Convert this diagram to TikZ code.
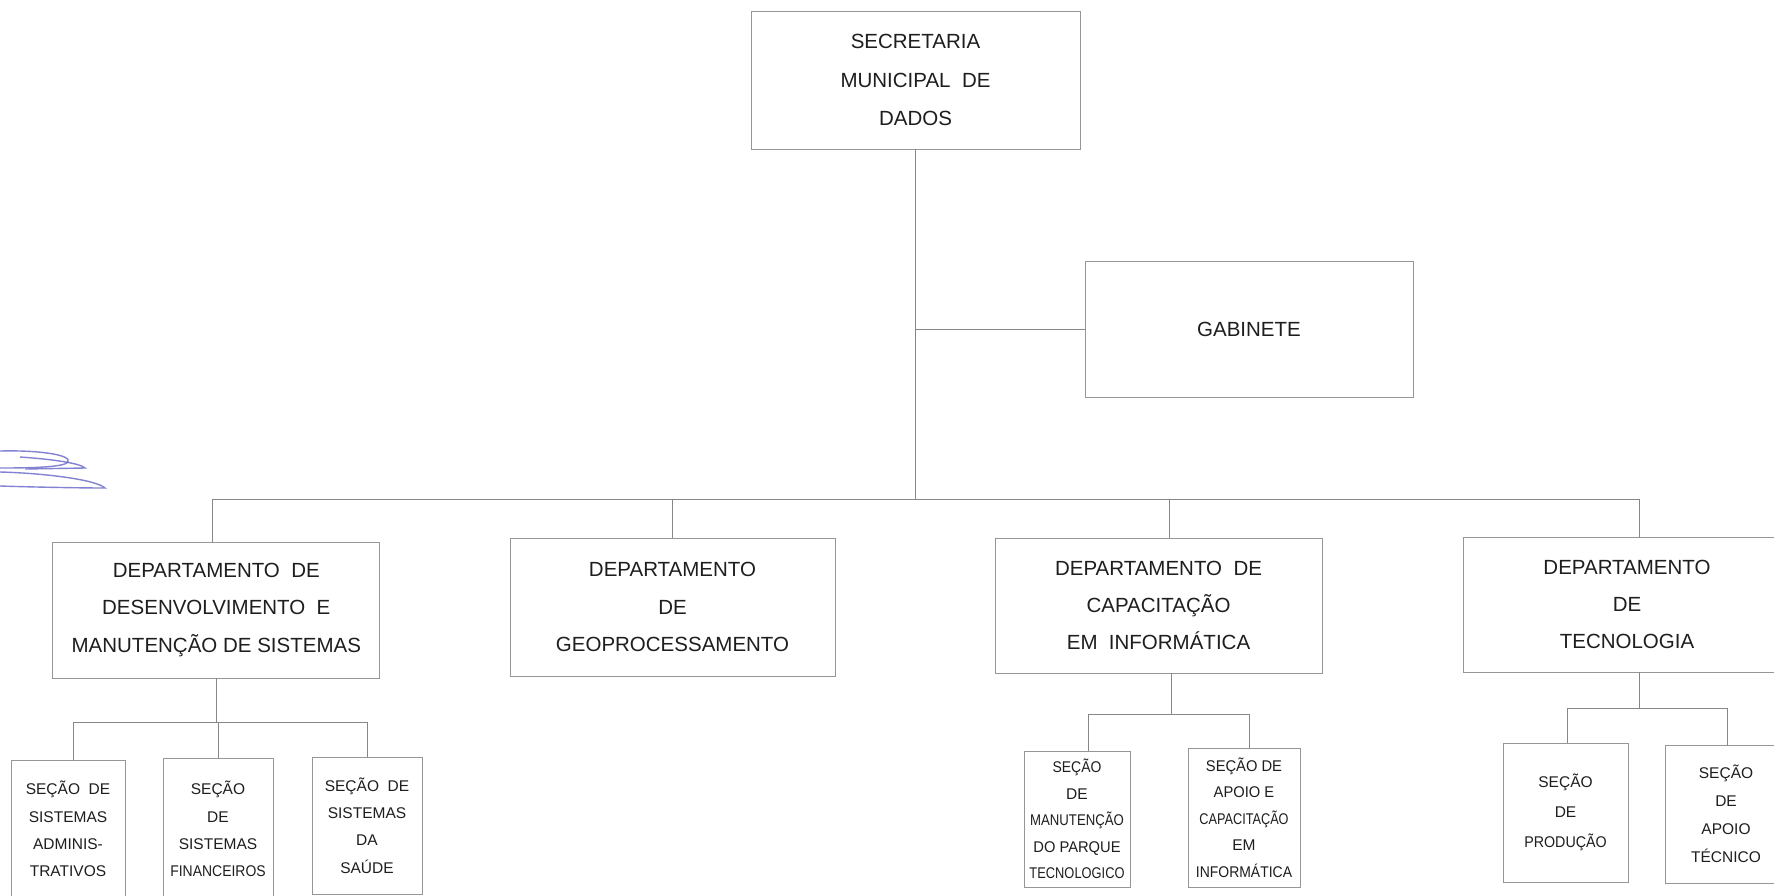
\documentclass[tikz,border=0pt]{standalone}
\usepackage{fontspec}
\setmainfont{Liberation Sans}
\usepackage{graphicx}
\definecolor{boxgray}{RGB}{150,150,150}
\definecolor{linegray}{RGB}{135,135,135}
\definecolor{txt}{RGB}{30,30,30}
\definecolor{pen}{RGB}{100,100,200}
\newcommand{\sq}[2]{\scalebox{#1}[1]{#2}}
\begin{document}
\begin{tikzpicture}[x=1pt,y=-1pt,
  box/.style={draw=boxgray, line width=0.85pt, rectangle, inner sep=0pt, align=center, text=txt},
  big/.style={box, font=\fontsize{20.5}{37.3}\selectfont},
  small/.style={box, font=\fontsize{15.5}{27.3}\selectfont},
  wire/.style={draw=linegray, line width=0.85pt},
  scrib/.style={draw=pen, line width=1.4pt, opacity=0.8}]
\useasboundingbox (0,0) rectangle (1774,895);
\clip (0,0) rectangle (1774,895);
\fill[white] (0,0) rectangle (1774,895);

% top level
\node[big, minimum width=329pt, minimum height=138pt, font=\fontsize{20.5}{38.5}\selectfont] (sec) at (915.5,80) {SECRETARIA\\MUNICIPAL~~DE\\DADOS};
\node[big, minimum width=328pt, minimum height=136pt] (gab) at (1249,329) {GABINETE};

% departments
\node[big, minimum width=327pt, minimum height=136pt] (d1) at (216.3,610) {DEPARTAMENTO~~DE\\DESENVOLVIMENTO~~E\\MANUTENÇÃO DE SISTEMAS};
\node[big, minimum width=325pt, minimum height=138pt] (d2) at (672.5,607) {DEPARTAMENTO\\DE\\GEOPROCESSAMENTO};
\node[big, minimum width=327pt, minimum height=135pt] (d3) at (1158.5,605.5) {DEPARTAMENTO~~DE\\CAPACITAÇÃO\\EM~~INFORMÁTICA};
\node[big, minimum width=328pt, minimum height=135pt] (d4) at (1627,604.5) {DEPARTAMENTO\\DE\\TECNOLOGIA};

% sections
\node[small, minimum width=114pt, minimum height=138pt] (s1) at (68,829) {SEÇÃO~~DE\\SISTEMAS\\ADMINIS-\\TRATIVOS};
\node[small, minimum width=110pt, minimum height=142pt] (s2) at (218,829) {SEÇÃO\\DE\\SISTEMAS\\\sq{0.9}{FINANCEIROS}};
\node[small, minimum width=110pt, minimum height=137pt] (s3) at (367,825.5) {SEÇÃO~~DE\\SISTEMAS\\DA\\SAÚDE};
\node[small, minimum width=106pt, minimum height=136pt, font=\fontsize{15.5}{26.5}\selectfont] (s4) at (1077,819) {\sq{0.9}{SEÇÃO}\\DE\\\sq{0.85}{MANUTENÇÃO}\\\sq{0.95}{DO PARQUE}\\\sq{0.83}{TECNOLOGICO}};
\node[small, minimum width=112pt, minimum height=139pt, font=\fontsize{15.5}{26.5}\selectfont] (s5) at (1244,817.5) {\sq{0.95}{SEÇÃO DE}\\\sq{0.95}{APOIO E}\\\sq{0.82}{CAPACITAÇÃO}\\EM\\\sq{0.9}{INFORMÁTICA}};
\node[small, minimum width=125pt, minimum height=139pt, font=\fontsize{15.5}{30}\selectfont] (s6) at (1565.5,812.5) {SEÇÃO\\DE\\\sq{0.92}{PRODUÇÃO}};
\node[small, minimum width=122pt, minimum height=138pt, font=\fontsize{15.5}{28}\selectfont] (s7) at (1726,814) {SEÇÃO\\DE\\APOIO\\TÉCNICO};

% main trunk and bus
\coordinate (busL) at (212,499);
\coordinate (busR) at (1639,499);
\coordinate (j) at (sec.south |- busL);
\coordinate (c3) at (1169,499);
\draw[wire] (sec.south) -- (j);
\draw[wire] (sec.south |- gab.west) -- (gab.west);
\draw[wire] (busL) -- (busR);
\draw[wire] (busL) -- (busL |- d1.north);
\draw[wire] (d2.north |- busL) -- (d2.north);
\draw[wire] (c3) -- (c3 |- d3.north);
\draw[wire] (busR) -- (busR |- d4.north);

% dept 1 sections
\coordinate (b1) at (d1.south |- 0,722);
\coordinate (s1top) at ([xshift=5pt]s1.north);
\draw[wire] (d1.south) -- (b1);
\draw[wire] (s1top |- b1) -- (s3.north |- b1);
\draw[wire] (s1top |- b1) -- (s1top);
\draw[wire] (s2.north |- b1) -- (s2.north);
\draw[wire] (s3.north |- b1) -- (s3.north);

% dept 3 sections
\coordinate (t3) at (1171,673);
\coordinate (b3) at (1171,714);
\draw[wire] (t3) -- (b3);
\draw[wire] (1088,714) coordinate (b3l) -- (1249,714) coordinate (b3r);
\draw[wire] (b3l) -- (b3l |- s4.north);
\draw[wire] (b3r) -- (b3r |- s5.north);

% dept 4 sections
\coordinate (t4) at (busR |- d4.south);
\coordinate (b4) at (1639,708);
\draw[wire] (t4) -- (b4);
\draw[wire] (1567,708) coordinate (b4l) -- (1727,708) coordinate (b4r);
\draw[wire] (b4l) -- (b4l |- s6.north);
\draw[wire] (b4r) -- (b4r |- s7.north);

% pen scribble
\draw[scrib] (0,451) .. controls (40,450) and (72,455) .. (68,462) .. controls (64,467) and (35,468) .. (0,468);
\draw[scrib] (20,457) .. controls (50,459) and (80,463) .. (85,468) -- (25,469);
\draw[scrib] (0,472) .. controls (40,473) and (95,479) .. (105,488) .. controls (80,488) and (30,487) .. (0,486);
\end{tikzpicture}
\end{document}
